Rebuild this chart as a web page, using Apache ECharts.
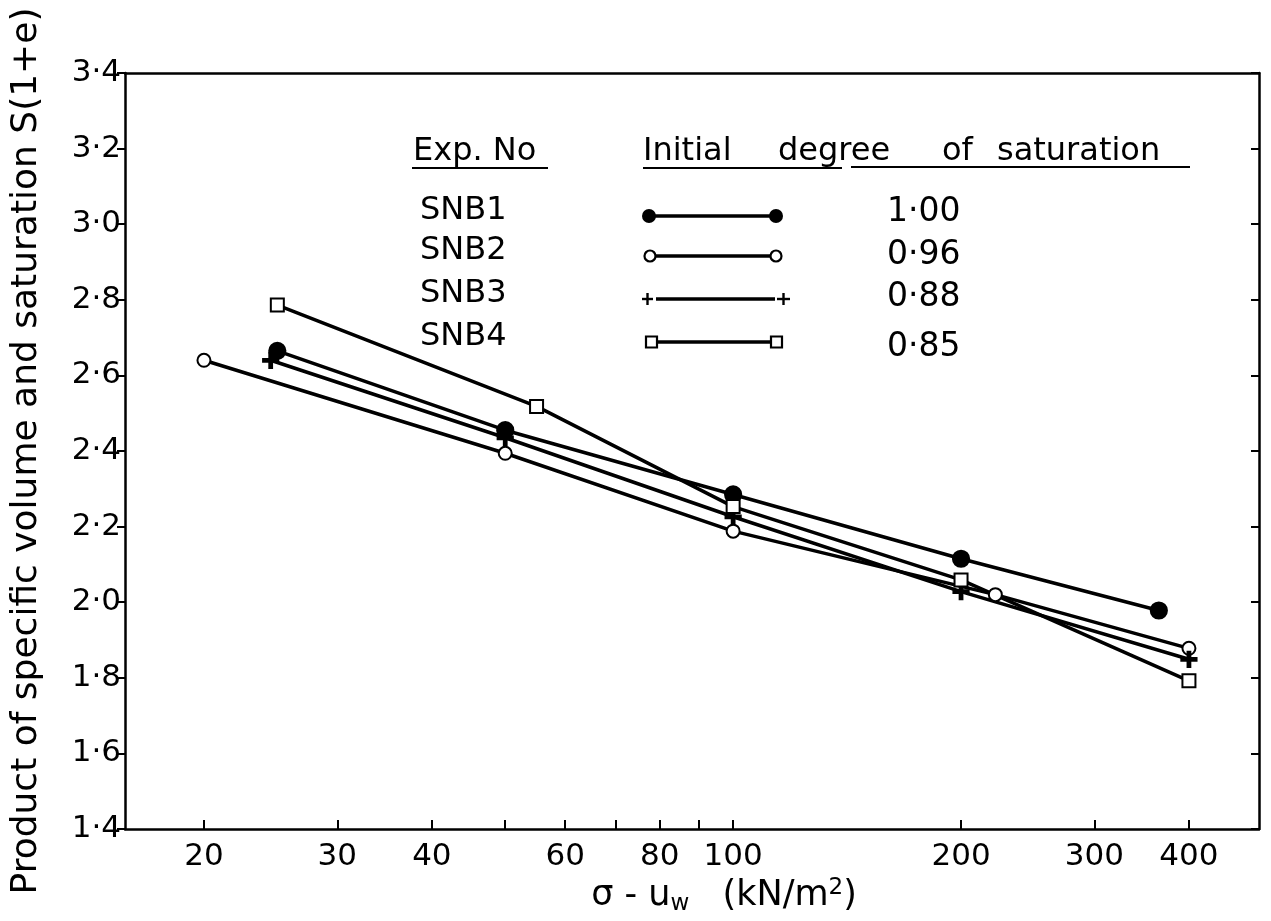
<!DOCTYPE html>
<html><head><meta charset="utf-8">
<script src="https://cdn.jsdelivr.net/npm/echarts@6/dist/echarts.min.js"></script>
<style>html,body{margin:0;padding:0;background:#fff}#c{width:1271px;height:921px}</style>
</head><body><div id="c"></div>
<script>
// ---- data ----
const xTickValues = [20, 30, 40, 50, 60, 70, 80, 90, 100, 200, 300, 400];
const xLabelValues = [20, 30, 40, 60, 80, 100, 200, 300, 400];
const snb1 = [[25, 2.665], [50, 2.455], [100, 2.285], [200, 2.115], [365, 1.978]];
const snb2 = [[20, 2.64], [50, 2.394], [100, 2.188], [222, 2.02], [400, 1.878]];
const snb3 = [[24.5, 2.64], [50, 2.435], [100, 2.226], [200, 2.028], [400, 1.849]];
const snb4 = [[25, 2.786], [55, 2.518], [100, 2.253], [200, 2.059], [400, 1.792]];
const seriesNames = ['SNB1', 'SNB2', 'SNB3', 'SNB4'];
const saturationValues = ['1·00', '0·96', '0·88', '0·85'];

const FONT = "'DejaVu Sans', sans-serif";
const PLUS = 'path://M-1.2,-7H1.2V7H-1.2Z M-7,-1.2H7V1.2H-7Z';

function lineSeries(name, data, symbol, size) {
  return {
    name: name, type: 'line', data: data, symbol: symbol, symbolSize: size,
    showSymbol: true, animation: false,
    lineStyle: {color: '#000', width: 3.5},
    itemStyle: {color: '#000', borderColor: '#000', borderWidth: 2.2},
    z: 3
  };
}

// ---- legend (drawn as a table) ----
const rowY = [214, 254, 297, 340];
const valY = [212, 255, 297, 347];
const graphics = [];
const txt = (x, y, t, size) => ({type: 'text', silent: true, style: {x: x, y: y, text: t, fontFamily: FONT, fontSize: size, fill: '#000', align: 'left', verticalAlign: 'middle'}});
const ln = (x1, y1, x2, y2, w) => ({type: 'line', silent: true, shape: {x1, y1, x2, y2}, style: {stroke: '#000', lineWidth: w}});
graphics.push(txt(413, 152, 'Exp. No', 32));
graphics.push(ln(412, 168, 548, 168, 2));
graphics.push(txt(643, 152, 'Initial', 32));
graphics.push(txt(778, 152, 'degree', 32));
graphics.push(txt(942, 152, 'of', 32));
graphics.push(txt(997, 152, 'saturation', 32));
graphics.push(ln(643, 168, 842, 168, 2));
graphics.push(ln(851, 167, 1190, 167, 2));
seriesNames.forEach((n, i) => {
  graphics.push(txt(420, rowY[i] - 3, n, 32));
  graphics.push(txt(887, valY[i], saturationValues[i], 33));
  const y = rowY[i] + 2;
  if (i === 0) {
    graphics.push(ln(650, y, 776, y, 3.5));
    graphics.push({type: 'circle', shape: {cx: 649, cy: y, r: 7}, style: {fill: '#000'}});
    graphics.push({type: 'circle', shape: {cx: 776, cy: y, r: 7}, style: {fill: '#000'}});
  } else if (i === 1) {
    graphics.push(ln(655, y, 772, y, 3.5));
    graphics.push({type: 'circle', shape: {cx: 650, cy: y, r: 5.5}, style: {fill: '#fff', stroke: '#000', lineWidth: 2.2}});
    graphics.push({type: 'circle', shape: {cx: 776, cy: y, r: 5.5}, style: {fill: '#fff', stroke: '#000', lineWidth: 2.2}});
  } else if (i === 2) {
    graphics.push(ln(656, y, 775, y, 3.5));
    graphics.push(ln(642, y, 653, y, 2.4)); graphics.push(ln(647.5, y - 6, 647.5, y + 6, 2.4));
    graphics.push(ln(777, y, 790, y, 2.4)); graphics.push(ln(783.5, y - 6, 783.5, y + 6, 2.4));
  } else {
    graphics.push(ln(657, y, 771, y, 3.5));
    graphics.push({type: 'rect', shape: {x: 646, y: y - 5.5, width: 11, height: 11}, style: {fill: '#fff', stroke: '#000', lineWidth: 2.2}});
    graphics.push({type: 'rect', shape: {x: 771, y: y - 5.5, width: 11, height: 11}, style: {fill: '#fff', stroke: '#000', lineWidth: 2.2}});
  }
});

const chart = echarts.init(document.getElementById('c'), null, {renderer: 'canvas'});
const axisLine = {show: true, lineStyle: {color: '#000', width: 2.5}};
chart.setOption({
  backgroundColor: '#fff',
  animation: false,
  grid: {left: 125, right: 12, top: 73, bottom: 92, containLabel: false},
  xAxis: [{
    type: 'log', logBase: 10, min: 15.73, max: 495, position: 'bottom',
    axisLine: axisLine,
    axisTick: {show: true, inside: true, length: 9, customValues: xTickValues, lineStyle: {color: '#000', width: 2}},
    axisLabel: {show: true, customValues: xLabelValues, color: '#000', fontFamily: FONT, fontSize: 31, margin: 12},
    minorTick: {show: false}, splitLine: {show: false},
    name: 'σ - u{sub|w}   (kN/m{sup|2})', nameLocation: 'middle', nameGap: 44,
    nameTextStyle: {color: '#000', fontFamily: FONT, fontSize: 35, padding: [0, 0, 0, 64],
      rich: {sub: {fontFamily: FONT, fontSize: 23, verticalAlign: 'bottom', padding: [16, 0, 0, 0]},
             sup: {fontFamily: FONT, fontSize: 23, verticalAlign: 'top', padding: [0, 0, 16, 0]}}}
  }, {
    type: 'log', logBase: 10, min: 15.73, max: 495, position: 'top',
    axisLine: axisLine, axisTick: {show: false}, axisLabel: {show: false}, splitLine: {show: false}
  }],
  yAxis: [{
    type: 'value', min: 1.4, max: 3.4, interval: 0.2, position: 'left',
    axisLine: axisLine,
    axisTick: {show: true, inside: false, length: 8, lineStyle: {color: '#000', width: 2}},
    axisLabel: {color: '#000', fontFamily: FONT, fontSize: 31, margin: 4,
      formatter: v => v.toFixed(1).replace('.', '·')},
    splitLine: {show: false},
    name: 'Product of specific volume and saturation S(1+e)', nameLocation: 'middle', nameRotate: 90, nameGap: 80,
    nameTextStyle: {color: '#000', fontFamily: FONT, fontSize: 36}
  }, {
    type: 'value', min: 1.4, max: 3.4, interval: 0.2, position: 'right',
    axisLine: axisLine,
    axisTick: {show: true, inside: true, length: 8, lineStyle: {color: '#000', width: 2}},
    axisLabel: {show: false}, splitLine: {show: false}
  }],
  series: [
    lineSeries('SNB1', snb1, 'circle', 16),
    lineSeries('SNB2', snb2, 'emptyCircle', 13),
    lineSeries('SNB3', snb3, PLUS, 15),
    lineSeries('SNB4', snb4, 'emptyRect', 13)
  ],
  graphic: graphics
});
</script></body></html>
